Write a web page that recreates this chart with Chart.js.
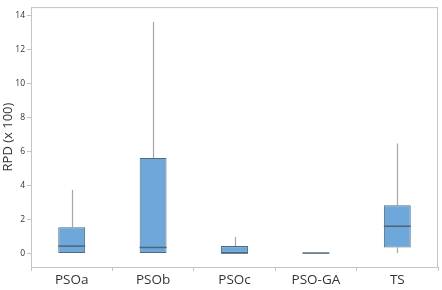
<!DOCTYPE html>
<html lang="en">
<head>
    <meta charset="UTF-8">
    <title>RPD box plot</title>
    <script src="https://cdn.jsdelivr.net/npm/chart.js"></script>
    <style>
        body { margin: 0; background: #fff; }
        #wrap { width: 442px; height: 290px; }
    </style>
</head>
<body>
    <div id="wrap">
        <canvas id="myChart"></canvas>
    </div>

    <script>
        // datos (x100)
        const categories = ['PSOa', 'PSOb', 'PSOc', 'PSO-GA', 'TS'];
        const whiskerLow = [0, 0, 0, 0.02, 0.03];
        const q1 = [0, 0, 0, 0.02, 0.35];
        const median = [0.43, 0.35, 0.02, 0.02, 1.6];
        const q3 = [1.54, 5.61, 0.43, 0.02, 2.84];
        const whiskerHigh = [3.74, 13.64, 0.97, 0.02, 6.47];
        const yTicks = [0, 2, 4, 6, 8, 10, 12, 14];

        const ctx = document.getElementById('myChart');

        // bigotes, medianas y marco
        const boxExtras = {
            id: 'boxExtras',
            beforeDatasetsDraw(chart) {
                const c = chart.ctx;
                const x = chart.scales.x, y = chart.scales.y;
                c.save();
                c.strokeStyle = '#a6a6a6';
                c.lineWidth = 1.2;
                categories.forEach((cat, i) => {
                    const px = Math.round(x.getPixelForValue(i)) + 0.5;
                    c.beginPath();
                    c.moveTo(px, y.getPixelForValue(q3[i]));
                    c.lineTo(px, y.getPixelForValue(whiskerHigh[i]));
                    c.moveTo(px, y.getPixelForValue(q1[i]));
                    c.lineTo(px, y.getPixelForValue(whiskerLow[i]));
                    c.stroke();
                });
                c.restore();
            },
            afterDatasetsDraw(chart) {
                const c = chart.ctx;
                const y = chart.scales.y;
                const meta = chart.getDatasetMeta(0);
                c.save();
                c.strokeStyle = '#4f6478';
                c.lineWidth = 1.5;
                meta.data.forEach((bar, i) => {
                    const half = bar.width / 2;
                    const py = y.getPixelForValue(median[i]);
                    c.beginPath();
                    c.moveTo(bar.x - half, py);
                    c.lineTo(bar.x + half, py);
                    c.stroke();
                });
                const a = chart.chartArea;
                c.strokeStyle = '#c4c4c4';
                c.lineWidth = 1;
                c.strokeRect(a.left + 0.5, a.top + 0.5, a.right - a.left - 1, a.bottom - a.top);
                c.restore();
            }
        };

        new Chart(ctx, {
            type: 'bar',
            data: {
                labels: categories,
                datasets: [{
                    label: 'RPD',
                    data: categories.map((c, i) => [q1[i], q3[i]]),
                    backgroundColor: '#6ea7d9',
                    borderColor: '#4f6b84',
                    borderWidth: 1,
                    borderSkipped: false,
                    categoryPercentage: 1,
                    barPercentage: 0.33
                }]
            },
            options: {
                responsive: true,
                maintainAspectRatio: false,
                animation: false,
                layout: { padding: { top: 5, right: 4, left: 0, bottom: 0 } },
                plugins: {
                    legend: { display: false },
                    tooltip: { enabled: false }
                },
                scales: {
                    x: {
                        grid: { display: true, drawOnChartArea: false, tickLength: 4, color: '#c4c4c4' },
                        border: { color: '#c4c4c4' },
                        ticks: {
                            color: '#333',
                            padding: 1,
                            font: { family: 'Open Sans', size: 13.5 }
                        },
                        afterFit(scale) { scale.height = 23; }
                    },
                    y: {
                        min: -0.8,
                        max: 14.5,
                        afterBuildTicks(scale) {
                            scale.ticks = yTicks.map(v => ({ value: v }));
                        },
                        grid: { display: true, drawOnChartArea: false, tickLength: 4, color: '#c4c4c4' },
                        border: { color: '#c4c4c4' },
                        ticks: {
                            color: '#333',
                            padding: 2,
                            font: { family: 'Open Sans', size: 8.5 }
                        },
                        title: {
                            display: true,
                            text: 'RPD (x 100)',
                            color: '#333',
                            padding: 0,
                            font: { family: 'Open Sans', size: 13 }
                        },
                        afterFit(scale) { scale.width = 31; }
                    }
                }
            },
            plugins: [boxExtras]
        });
    </script>
</body>
</html>
